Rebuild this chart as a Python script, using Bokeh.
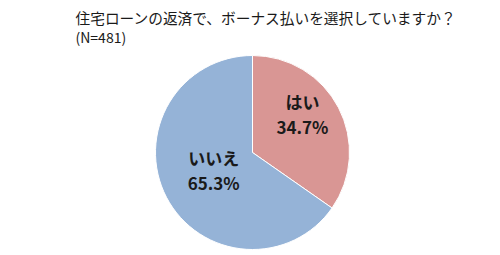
import numpy as np
from bokeh.plotting import figure
from bokeh.models import Range1d
from bokeh.core.properties import value
from bokeh.embed import file_html
from bokeh.resources import INLINE

title_text = "住宅ローンの返済で、ボーナス払いを選択していますか？"
n_text = "(N=481)"
categories = ["はい", "いいえ"]
shares = [34.7, 65.3]
colors = ["#D99694", "#95B3D7"]

W, H = 500, 255
p = figure(width=W, height=H, output_backend="svg", toolbar_location=None,
           x_range=Range1d(0, W), y_range=Range1d(0, H), min_border=0)
p.axis.visible = False
p.grid.visible = False
p.outline_line_color = None
p.background_fill_color = "white"
p.border_fill_color = "white"

cx, cy, r = 252, H - 152, 97
fr = np.array(shares) / sum(shares)
cum = np.concatenate([[0], np.cumsum(fr)])
# clockwise from 12 o'clock
starts = np.pi / 2 - 2 * np.pi * cum[1:]
ends = np.pi / 2 - 2 * np.pi * cum[:-1]
p.wedge(x=cx, y=cy, radius=r, radius_units="screen",
        start_angle=starts, end_angle=ends, fill_color=colors,
        line_color="white", line_width=1)

# labels (placement similar to spreadsheet best-fit)
mid = (starts + ends) / 2 + np.radians([10, -3])
lr = np.array([0.65, 0.44]) * r
lx = cx + lr * np.cos(mid)
ly = cy + lr * np.sin(mid)
pct = [f"{s:.1f}%" for s in shares]
p.text(x=lx, y=ly + 12.5, text=categories, text_align="center", text_baseline="middle",
       text_font=value("Noto Sans CJK JP"), text_font_style="bold",
       text_font_size="17px", text_color="#1a1a1a")
p.text(x=lx, y=ly - 12.5, text=pct, text_align="center", text_baseline="middle",
       text_font=value("Noto Sans CJK JP"), text_font_style="bold",
       text_font_size="17px", text_color="#1a1a1a")

p.text(x=[75], y=[H - 17], text=[title_text], text_align="left", text_baseline="middle",
       text_font=value("Noto Sans CJK JP"), text_font_size="14.7px", text_color="#1a1a1a")
p.text(x=[75], y=[H - 36], text=[n_text], text_align="left", text_baseline="middle",
       text_font=value("Noto Sans CJK JP"), text_font_size="14px", text_color="#1a1a1a")

open("out.html", "w").write(file_html(p, INLINE))
